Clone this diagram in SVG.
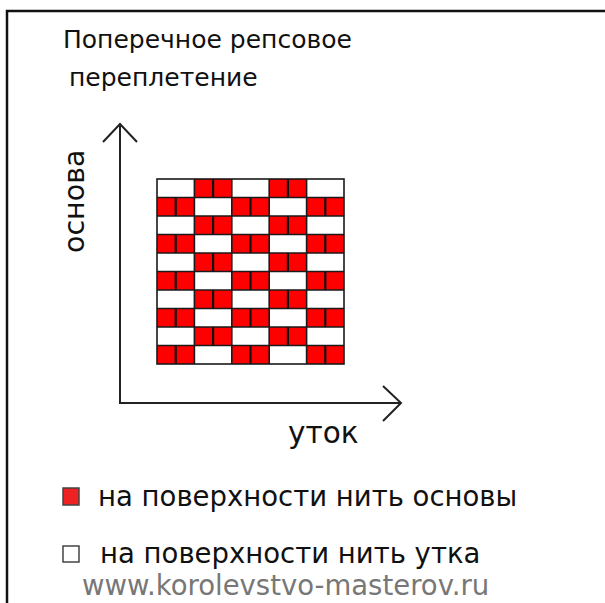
<svg xmlns="http://www.w3.org/2000/svg" width="605" height="603" viewBox="0 0 605 603">
<style>
text{font-family:"DejaVu Sans","Verdana",sans-serif;fill:#111}
.t{font-size:25px}
.l{font-size:27.5px}
.u{font-size:27.5px;fill:#777}
.ln{stroke:#1a1a1a;stroke-width:1.6;fill:none}
.ax{stroke:#222;stroke-width:2;fill:none}
.r{fill:#ff0000}
</style>
<rect width="605" height="603" fill="#fff"/>
<path d="M7 603 V11 H605" stroke="#111" stroke-width="2.5" fill="none"/>
<g id="title"><text class="t" x="63" y="48">Поперечное репсовое</text><text class="t" x="69" y="86">переплетение</text></g>
<g id="connectors">
<path class="ax" d="M120 124 V403 H401"/>
<path class="ax" d="M103 142 L120 124 L137 142"/>
<path class="ax" d="M383 386 L401 403 L383 421"/>
</g>
<g id="axis-y"><text style="font-size:28.5px" transform="translate(84,253) rotate(-90)">основа</text></g>
<g id="axis-x"><text style="font-size:29.5px" x="288" y="443">уток</text></g>
<g id="grid">
<rect x="157" y="179" width="187" height="185" fill="#fff"/>
<g class="r">
<rect x="194.4" y="179" width="37.4" height="18.5"/><rect x="269.2" y="179" width="37.4" height="18.5"/>
<rect x="157" y="197.5" width="37.4" height="18.5"/><rect x="231.8" y="197.5" width="37.4" height="18.5"/><rect x="306.6" y="197.5" width="37.4" height="18.5"/>
<rect x="194.4" y="216" width="37.4" height="18.5"/><rect x="269.2" y="216" width="37.4" height="18.5"/>
<rect x="157" y="234.5" width="37.4" height="18.5"/><rect x="231.8" y="234.5" width="37.4" height="18.5"/><rect x="306.6" y="234.5" width="37.4" height="18.5"/>
<rect x="194.4" y="253" width="37.4" height="18.5"/><rect x="269.2" y="253" width="37.4" height="18.5"/>
<rect x="157" y="271.5" width="37.4" height="18.5"/><rect x="231.8" y="271.5" width="37.4" height="18.5"/><rect x="306.6" y="271.5" width="37.4" height="18.5"/>
<rect x="194.4" y="290" width="37.4" height="18.5"/><rect x="269.2" y="290" width="37.4" height="18.5"/>
<rect x="157" y="308.5" width="37.4" height="18.5"/><rect x="231.8" y="308.5" width="37.4" height="18.5"/><rect x="306.6" y="308.5" width="37.4" height="18.5"/>
<rect x="194.4" y="327" width="37.4" height="18.5"/><rect x="269.2" y="327" width="37.4" height="18.5"/>
<rect x="157" y="345.5" width="37.4" height="18.5"/><rect x="231.8" y="345.5" width="37.4" height="18.5"/><rect x="306.6" y="345.5" width="37.4" height="18.5"/>
</g>
<path class="ln" d="M157 197.5H344M157 216H344M157 234.5H344M157 253H344M157 271.5H344M157 290H344M157 308.5H344M157 327H344M157 345.5H344M194.4 179V364M231.8 179V364M269.2 179V364M306.6 179V364"/>
<path stroke="#111" stroke-width="2.2" d="M213.1 179v18.5M287.9 179v18.5M175.7 197.5v18.5M250.5 197.5v18.5M325.3 197.5v18.5M213.1 216v18.5M287.9 216v18.5M175.7 234.5v18.5M250.5 234.5v18.5M325.3 234.5v18.5M213.1 253v18.5M287.9 253v18.5M175.7 271.5v18.5M250.5 271.5v18.5M325.3 271.5v18.5M213.1 290v18.5M287.9 290v18.5M175.7 308.5v18.5M250.5 308.5v18.5M325.3 308.5v18.5M213.1 327v18.5M287.9 327v18.5M175.7 345.5v18.5M250.5 345.5v18.5M325.3 345.5v18.5"/>
<rect class="ln" x="157" y="179" width="187" height="185"/>
</g>
<g id="legend-red"><rect x="63" y="488" width="16" height="17" fill="#ee2222" stroke="#444" stroke-width="1.5"/><text class="l" x="98" y="506">на поверхности нить основы</text></g>
<g id="legend-white"><rect x="63" y="546" width="16" height="16" fill="#fff" stroke="#444" stroke-width="1.5"/><text class="l" x="100" y="563">на поверхности нить утка</text></g>
<g id="url"><text class="u" x="82" y="595">www.korolevstvo-masterov.ru</text></g>
</svg>
